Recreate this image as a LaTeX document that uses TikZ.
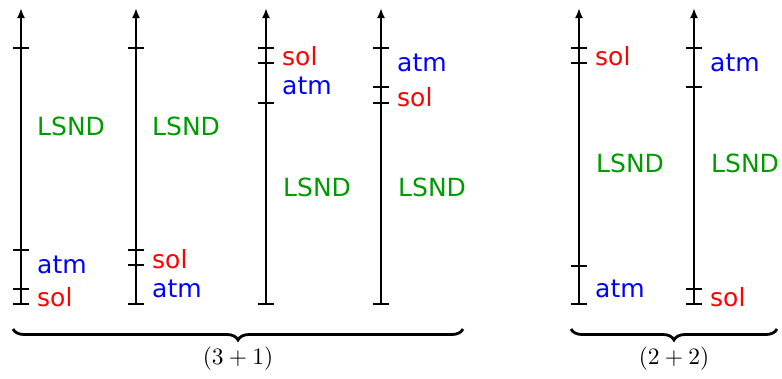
\documentclass[tikz,border=0pt]{standalone}
\usepackage{fontspec}
\newfontfamily\labfont{DejaVu Sans}
\usetikzlibrary{arrows.meta,decorations.pathreplacing}
\definecolor{lgreen}{RGB}{0,155,0}
\definecolor{lred}{RGB}{255,0,0}
\definecolor{lblue}{RGB}{0,0,255}
\begin{document}
\begin{tikzpicture}[x=1pt,y=-1pt,
  axisline/.style={line width=2.3pt,-{Latex[length=10pt,width=8pt]}},
  tickline/.style={line width=2.3pt},
  lab/.style={anchor=west,inner sep=0pt,font=\labfont\fontsize{25}{30}\selectfont},
  bracestyle/.style={line width=2.8pt,decorate,decoration={brace,mirror,amplitude=11pt}},
  blab/.style={inner sep=0pt,scale=2.35}]
\useasboundingbox (0,0) rectangle (782,378);
% axes
\foreach \n/\x/\ticks in {1/21/{48,250,289,304},2/136/{48,250,265,304},3/266/{48,63,103,304},4/381/{48,87,103,304},5/579/{48,63,266,304},6/694/{48,87,289,304}}{
  \coordinate (b\n) at (\x,304);
  \coordinate (t\n) at (\x,8);
  \draw[axisline] (b\n) -- (t\n);
  \foreach \y in \ticks { \draw[tickline] (\x-8,\y) -- (\x+8,\y); }
}
% labels
\node[lab,text=lgreen] (l1) at (37,126) {LSND};
\node[lab,text=lblue]  (a1) at (37,265) {atm};
\node[lab,text=lred]   (s1) at (37,297) {sol};
\node[lab,text=lgreen] (l2) at (152,126) {LSND};
\node[lab,text=lred]   (s2) at (152,259) {sol};
\node[lab,text=lblue]  (a2) at (152,289) {atm};
\node[lab,text=lred]   (s3) at (282,56) {sol};
\node[lab,text=lblue]  (a3) at (282,86) {atm};
\node[lab,text=lgreen] (l3) at (283,187) {LSND};
\node[lab,text=lblue]  (a4) at (397,63) {atm};
\node[lab,text=lred]   (s4) at (397,97) {sol};
\node[lab,text=lgreen] (l4) at (398,187) {LSND};
\node[lab,text=lred]   (s5) at (595,56) {sol};
\node[lab,text=lgreen] (l5) at (596,163) {LSND};
\node[lab,text=lblue]  (a5) at (595,289) {atm};
\node[lab,text=lblue]  (a6) at (710,63) {atm};
\node[lab,text=lgreen] (l6) at (711,163) {LSND};
\node[lab,text=lred]   (s6) at (710,297) {sol};
% braces
\coordinate (bl1) at (13,329);
\coordinate (br1) at (463,329);
\draw[bracestyle] (bl1) -- (br1);
\node[blab] (g1) at (238,359) {$(3+1)$};
\coordinate (bl2) at (571,329);
\coordinate (br2) at (777,329);
\draw[bracestyle] (bl2) -- (br2);
\node[blab] (g2) at (674,359) {$(2+2)$};
\end{tikzpicture}
\end{document}
